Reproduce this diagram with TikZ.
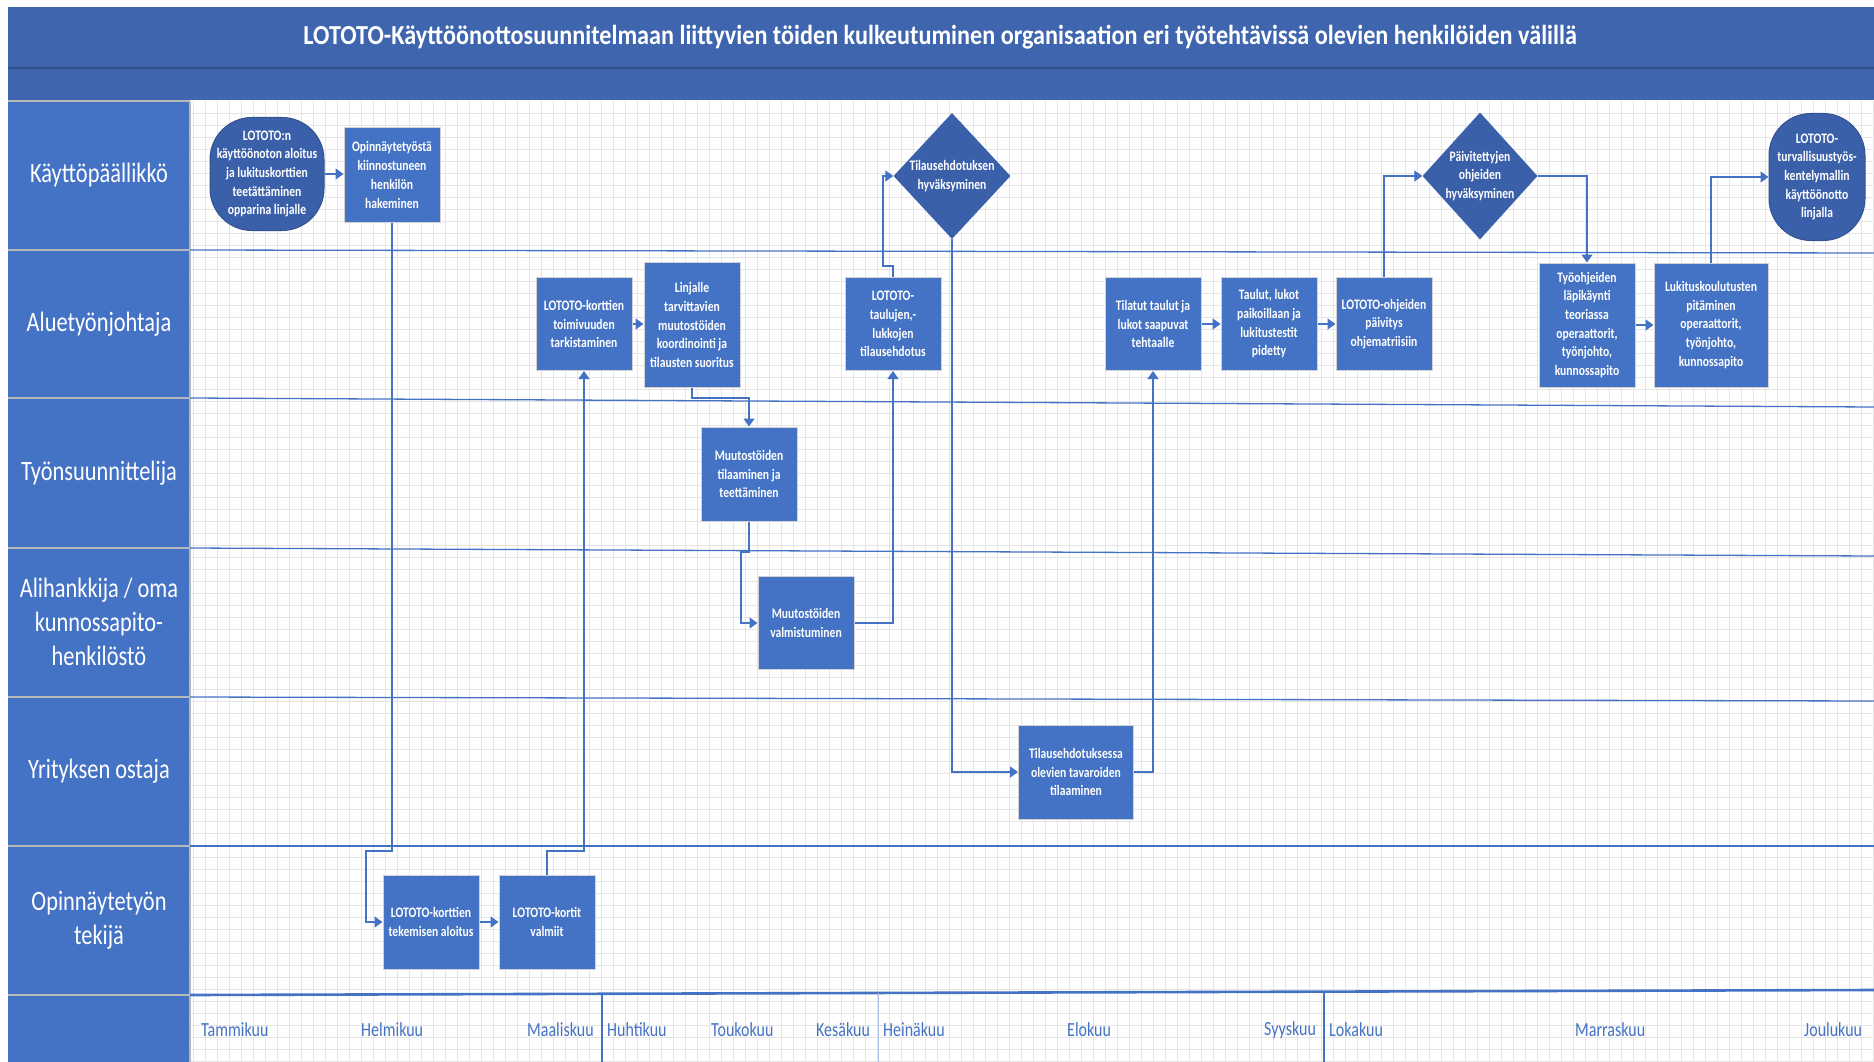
\documentclass[tikz,border=0pt]{standalone}
\usepackage{fontspec}
\setmainfont{Carlito}
\newfontfamily\visfont[FakeStretch=0.8]{Carlito}
\newfontfamily\headfont[FakeStretch=0.88]{Carlito}
\usepackage{tikz}
\usetikzlibrary{shapes.geometric, arrows.meta, positioning, calc}
\definecolor{titleblue}{RGB}{63,101,174}
\definecolor{titleline}{RGB}{47,82,143}
\definecolor{laneblue}{RGB}{68,114,196}
\definecolor{boxblue}{RGB}{68,114,196}
\definecolor{termblue}{RGB}{59,96,170}
\definecolor{flowblue}{RGB}{68,114,196}
\definecolor{gridgray}{RGB}{229,229,229}

\begin{document}
\begin{tikzpicture}[x=1pt, y=-1pt,
    process/.style={rectangle, draw=gray!35, line width=1pt, fill=boxblue,
                    text=white, align=center, minimum width=96, minimum height=94,
                    inner sep=1pt, font=\visfont\bfseries\fontsize{14.5}{18.7}\selectfont},
    terminal/.style={process, rounded corners=42, fill=termblue, draw=termblue!85!black},
    decision/.style={diamond, fill=termblue, draw=none, minimum width=117,
                     minimum height=126, inner sep=0pt},
    dlabel/.style={text=white, align=center, inner sep=0pt,
                   font=\visfont\bfseries\fontsize{14.5}{18.7}\selectfont},
    lanename/.style={text=white, align=center,
                     font=\visfont\fontsize{28}{34}\selectfont},
    month/.style={text=flowblue, anchor=west, inner sep=0pt,
                  font=\visfont\fontsize{20}{24}\selectfont},
    laneline/.style={flowblue, line width=1.3pt},
    gridline/.style={gridgray, line width=0.55pt},
    arrow/.style={flowblue, line width=1.3pt, -{Triangle[length=8pt,width=11pt]}}]

\useasboundingbox (0,0) rectangle (1874,1062);
\fill[white] (0,0) rectangle (1874,1062);

\foreach \gx in {193,205,...,1873} \draw[gridline] (\gx,101) -- (\gx,1062);
\foreach \gy in {113,125,...,1061} \draw[gridline] (190,\gy) -- (1874,\gy);

\fill[titleblue] (8,7) rectangle (1874,100);
\draw[titleline, line width=2pt] (8,68) -- (1874,68);
\node (title) [text=white, font=\headfont\bfseries\fontsize{27.5}{32}\selectfont] at (940,37)
    {LOTOTO-Käyttöönottosuunnitelmaan liittyvien töiden kulkeutuminen organisaation eri työtehtävissä olevien henkilöiden välillä};

\fill[laneblue] (8,101) rectangle (190,1062);
\foreach \ly in {101,250,398,548,697,846,995} \draw[gray!55, line width=1.2pt] (8,\ly) -- (190,\ly);
\draw[gray!55, line width=1.2pt] (190,101) -- (190,1062);

\draw[laneline] (190,250) -- (1874,253);
\draw[laneline] (190,398) -- (1874,407);
\draw[laneline] (190,548) -- (1874,556);
\draw[laneline] (190,697) -- (1874,701);
\draw[laneline] (190,846) -- (1874,846);
\draw[flowblue, line width=2.6pt] (190,995) -- (1874,990);
\draw[flowblue, line width=1.1pt] (602,994) -- (602,1062);
\draw[flowblue!45, line width=0.8pt] (878,993) -- (878,1062);
\draw[flowblue, line width=1.1pt] (1324,992) -- (1324,1062);

\node (kp)  [lanename] at (99,175) {Käyttöpäällikkö};
\node (atj) [lanename] at (99,324) {Aluetyönjohtaja};
\node (ts)  [lanename] at (99,473) {Työnsuunnittelija};
\node (ah)  [lanename] at (99,622) {Alihankkija / oma\\kunnossapito-\\henkilöstö};
\node (yo)  [lanename] at (99,771) {Yrityksen ostaja};
\node (ot)  [lanename] at (99,920) {Opinnäytetyön\\tekijä};

\node (m01) [month] at (201,1030)  {Tammikuu};
\node (m02) [month] at (361,1030)  {Helmikuu};
\node (m03) [month] at (527,1030)  {Maaliskuu};
\node (m04) [month] at (607,1030)  {Huhtikuu};
\node (m05) [month] at (711,1030)  {Toukokuu};
\node (m06) [month] at (816,1030)  {Kesäkuu};
\node (m07) [month] at (883,1030)  {Heinäkuu};
\node (m08) [month] at (1067,1030) {Elokuu};
\node (m09) [month] at (1264,1030) {Syyskuu};
\node (m10) [month] at (1329,1030) {Lokakuu};
\node (m11) [month] at (1575,1030) {Marraskuu};
\node (m12) [month] at (1804,1030) {Joulukuu};

\node (start)  [terminal, minimum width=114, minimum height=113] at (267,174)
    {LOTOTO:n\\käyttöönoton aloitus\\ja lukituskorttien\\teetättäminen\\opparina linjalle};
\node (haku)   [process] at (392,175) {Opinnäytetyöstä\\kiinnostuneen\\henkilön\\hakeminen};
\node (kaloit) [process] at (431,922) {LOTOTO-korttien\\tekemisen aloitus};
\node (kvalm)  [process] at (547,922) {LOTOTO-kortit\\valmiit};
\node (ktark)  [process, minimum height=93] at (584,324) {LOTOTO-korttien\\toimivuuden\\tarkistaminen};
\node (koord)  [process, minimum height=125] at (692,325)
    {Linjalle\\tarvittavien\\muutostöiden\\koordinointi ja\\tilausten suoritus};
\node (mtil)   [process] at (749,474) {Muutostöiden\\tilaaminen ja\\teettäminen};
\node (mvalm)  [process, minimum height=93] at (806,623) {Muutostöiden\\valmistuminen};
\node (tehd)   [process, minimum height=93] at (893,324) {LOTOTO-\\taulujen,-\\lukkojen\\tilausehdotus};
\node (hyv1)   [decision, label={[dlabel]center:{Tilausehdotuksen\\hyväksyminen}}] at (952,176) {};
\node (ostot)  [process, minimum width=115] at (1076,772)
    {Tilausehdotuksessa\\olevien tavaroiden\\tilaaminen};
\node (saap)   [process, minimum height=93] at (1153,324) {Tilatut taulut ja\\lukot saapuvat\\tehtaalle};
\node (paik)   [process, minimum height=93] at (1269,324)
    {Taulut, lukot\\paikoillaan ja\\lukitustestit\\pidetty};
\node (ohjp)   [process, minimum height=93] at (1384,324)
    {LOTOTO-ohjeiden\\päivitys\\ohjematriisiin};
\node (hyv2)   [decision, minimum width=115, minimum height=127,
                label={[dlabel]center:{Päivitettyjen\\ohjeiden\\hyväksyminen}}] at (1480,176) {};
\node (tyoohj) [process, minimum height=124] at (1587,325)
    {Työohjeiden\\läpikäynti\\teoriassa\\operaattorit,\\työnjohto,\\kunnossapito};
\node (koul)   [process, minimum width=114, minimum height=124] at (1711,325)
    {Lukituskoulutusten\\pitäminen\\operaattorit,\\työnjohto,\\kunnossapito};
\node (end)    [terminal, minimum width=96, minimum height=127] at (1817,177)
    {LOTOTO-\\turvallisuustyös-\\kentelymallin\\käyttöönotto\\linjalla};

\coordinate (j1) at (392,851);
\coordinate (j2) at (366,851);
\coordinate (j3) at (547,851);
\coordinate (j4) at (692,398);
\coordinate (j5) at (749,552);
\coordinate (j6) at (741,552);
\coordinate (j7) at (893,266);
\coordinate (j8) at (883,266);

\draw [arrow] (start.east) -- (start.east -| haku.west);
\draw [arrow] (haku.south) -- (j1) -- (j2) |- (kaloit.west);
\draw [arrow] (kaloit) -- (kvalm);
\draw [arrow] (kvalm.north) -- (j3) -| (ktark.south);
\draw [arrow] (ktark) -- (ktark -| koord.west);
\draw [arrow] (koord.south) -- (j4) -| (mtil.north);
\draw [arrow] (mtil.south) -- (j5) -- (j6) |- (mvalm.west);
\draw [arrow] (mvalm.east) -| (tehd.south);
\draw [arrow] (tehd.north) -- (j7) -- (j8) |- (hyv1.west);
\draw [arrow] (hyv1.south) |- (ostot.west);
\draw [arrow] (ostot.east) -| (saap.south);
\draw [arrow] (saap) -- (paik);
\draw [arrow] (paik) -- (ohjp);
\draw [arrow] (ohjp.north) |- (hyv2.west);
\draw [arrow] (hyv2.east) -| (tyoohj.north);
\draw [arrow] (tyoohj) -- (koul);
\draw [arrow] (koul.north) |- (end.west);
\end{tikzpicture}
\end{document}
